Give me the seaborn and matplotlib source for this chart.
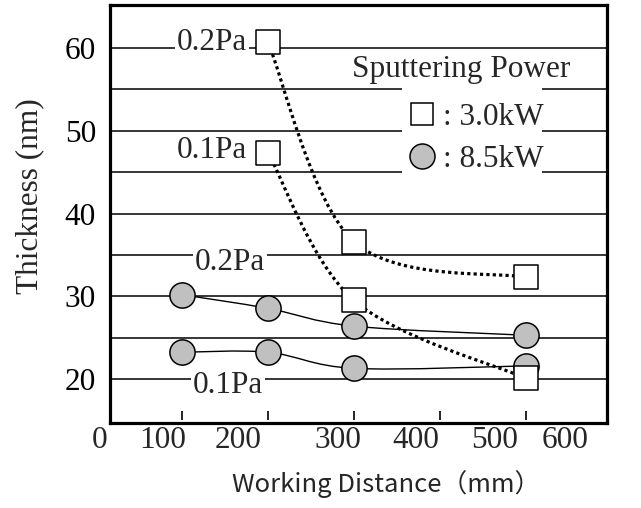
import numpy as np
import pandas as pd
import seaborn as sns
import matplotlib
matplotlib.use("Agg")
import matplotlib.pyplot as plt
from matplotlib.path import Path
from matplotlib.patches import PathPatch, Rectangle
from matplotlib.lines import Line2D
from matplotlib.transforms import ScaledTranslation

# ---------------- data ----------------
distance_85kw = [100, 200, 300, 500]
thick_85kw_02pa = [30.2, 28.55, 26.4, 25.3]
thick_85kw_01pa = [23.25, 23.25, 21.3, 21.6]

distance_30kw = [200, 300, 500]
thick_30kw_02pa = [60.7, 36.6, 32.3]
thick_30kw_01pa = [47.35, 29.5, 20.1]

x_tick_texts = ["0", "100", "200", "300", "400", "500", "600"]
y_tick_values = [20, 30, 40, 50, 60]
grid_minor_values = [25, 35, 45, 55]
x_mark_values = [100, 200, 300, 400, 500]

# layout: where the (offset) x tick labels sit in data units
x_tick_text_pos = [4.7, 78, 164.7, 281, 372, 463, 545]

df_circ = pd.DataFrame({
    "distance": distance_85kw * 2,
    "thickness": thick_85kw_02pa + thick_85kw_01pa,
    "pressure": ["0.2Pa"] * 4 + ["0.1Pa"] * 4,
})
df_sq = pd.DataFrame({
    "distance": distance_30kw * 2,
    "thickness": thick_30kw_02pa + thick_30kw_01pa,
    "pressure": ["0.2Pa"] * 3 + ["0.1Pa"] * 3,
})

sns.set_theme(style="white")
plt.rcParams["font.family"] = ["Liberation Serif", "DejaVu Serif"]
plt.rcParams["xtick.color"] = "black"
plt.rcParams["ytick.color"] = "black"

FS = 22.5

fig = plt.figure(figsize=(6.41, 5.08), dpi=100)
W, H = 641, 508
ax = fig.add_axes([110 / W, 1 - 423 / H, 497 / W, 418 / H])


def smooth_path(xs, ys):
    pts = np.column_stack([xs, ys]).astype(float)
    n = len(pts)
    verts = [pts[0]]
    codes = [Path.MOVETO]
    for i in range(n - 1):
        p0 = pts[max(i - 1, 0)]
        p1 = pts[i]
        p2 = pts[i + 1]
        p3 = pts[min(i + 2, n - 1)]
        c1 = p1 + (p2 - p0) / 6.0
        c2 = p2 - (p3 - p1) / 6.0
        verts += [c1, c2, p2]
        codes += [Path.CURVE4] * 3
    return Path(verts, codes)


# solid lines for 8.5 kW
for p in ["0.2Pa", "0.1Pa"]:
    sub = df_circ[df_circ.pressure == p]
    ax.add_patch(PathPatch(smooth_path(sub.distance, sub.thickness), fill=False,
                           edgecolor="black", lw=1.0, zorder=3))

sns.scatterplot(data=df_circ, x="distance", y="thickness", marker="o", s=330,
                color="#c0c0c0", edgecolor="black", linewidth=1.1, zorder=4,
                legend=False, ax=ax)

# dotted lines for 3.0 kW
for p in ["0.2Pa", "0.1Pa"]:
    sub = df_sq[df_sq.pressure == p]
    ax.add_patch(PathPatch(smooth_path(sub.distance, sub.thickness), fill=False,
                           edgecolor="black", lw=2.3, linestyle=(0, (1, 1)),
                           zorder=5))

sns.scatterplot(data=df_sq, x="distance", y="thickness", marker="s", s=275,
                color="white", edgecolor="black", linewidth=1.1, zorder=6,
                legend=False, ax=ax)

# grid / ticks
ax.set_yticks(y_tick_values)
ax.set_yticks(grid_minor_values, minor=True)
ax.set_yticklabels([str(v) for v in y_tick_values], fontsize=FS)
ax.grid(axis="y", which="both", color="black", lw=1.1)
ax.set_axisbelow(False)

ax.set_xticks(x_mark_values)
ax.set_xticklabels([""] * len(x_mark_values))
ax.tick_params(axis="x", which="major", direction="in", length=0, bottom=True, top=False)
ax.tick_params(axis="y", which="both", length=0, pad=10, left=True)

ax.set_xlim(16.3, 594)
ax.set_ylim(14.7, 65.2)

# inward tick marks at the x tick positions (short, just above the bottom frame)
ax.vlines(x_mark_values, (423 - 420) / 418, (423 - 411) / 418,
          transform=ax.get_xaxis_transform(), colors="black", lw=1.2, zorder=7)

# x tick texts (offset from the tick marks as in the original figure)
lab_tr = ax.get_xaxis_transform() + ScaledTranslation(0, -2 / 72, fig.dpi_scale_trans)
for pos, txt in zip(x_tick_text_pos, x_tick_texts):
    ax.text(pos, 0, txt, transform=lab_tr, ha="center", va="top",
            fontsize=FS, clip_on=False)

for s in ax.spines.values():
    s.set_color("black")
    s.set_linewidth(2.3)
    s.set_zorder(7)

ax.set_xlabel("Working Distance（mm）", fontsize=18.5,
              family=["Noto Sans CJK JP", "DejaVu Sans"], va="center")
ax.xaxis.set_label_coords((386 - 110) / 497, (423 - 484) / 418)
ax.set_ylabel("Thickness (nm)", fontsize=FS, va="center")
ax.yaxis.set_label_coords((30 - 110) / 497, 1 - (196 - 5) / 418)

# pressure annotations
bb = dict(facecolor="white", edgecolor="none", pad=1.5)
ax.text(135, 60.7, "0.2Pa", ha="center", va="center", fontsize=FS, bbox=bb, zorder=3)
ax.text(135, 47.6, "0.1Pa", ha="center", va="center", fontsize=FS, bbox=bb, zorder=3)
ax.text(156, 34.1, "0.2Pa", ha="center", va="center", fontsize=FS, bbox=bb, zorder=3)
ax.text(153.5, 19.2, "0.1Pa", ha="center", va="center", fontsize=FS, bbox=bb, zorder=3)

# legend
ax.text(297.7, 57.35, "Sputtering Power", ha="left", va="center", fontsize=FS)
ax.add_patch(Rectangle(((402 - 110) / 497, 1 - (175 - 5) / 418), 140 / 497, 87 / 418,
                       transform=ax.transAxes, facecolor="white", edgecolor="none",
                       zorder=2.8))
handles = [
    Line2D([], [], ls="none", marker="s", markersize=16.5, markerfacecolor="white",
           markeredgecolor="black", markeredgewidth=1.1),
    Line2D([], [], ls="none", marker="o", markersize=18, markerfacecolor="#c0c0c0",
           markeredgecolor="black", markeredgewidth=1.1),
]
leg = ax.legend(handles, [": 3.0kW", ": 8.5kW"], loc="upper left",
                bbox_to_anchor=((402 - 110) / 497, 1 - (97 - 5) / 418),
                fontsize=FS, frameon=False, borderpad=0.2,
                borderaxespad=0, handlelength=0.9, handletextpad=0.2,
                labelspacing=0.41)
leg.set_zorder(3)

fig.savefig("out.png", dpi=100)
